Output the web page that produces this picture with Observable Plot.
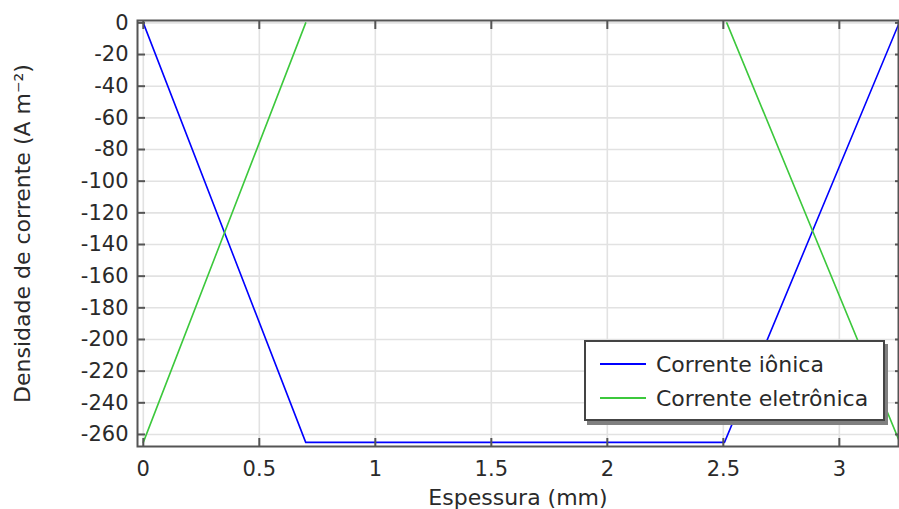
<!DOCTYPE html>
<html>
<head>
<meta charset="utf-8">
<script src="https://cdn.jsdelivr.net/npm/d3@7"></script>
<script src="https://cdn.jsdelivr.net/npm/@observablehq/plot@0.6"></script>
<style>
  html, body { margin: 0; padding: 0; background: #fff; }
  #wrap { position: relative; width: 899px; height: 509px; font-family: "DejaVu Sans", sans-serif; }
  #legend { position: absolute; left: 584px; top: 340px; width: 297px; height: 77px;
    border: 2px solid #444; background: #fff; box-shadow: 3px 4px 0 #808080; }
  .row { position: absolute; left: 0; height: 30px; display: flex; align-items: center; font-size: 22px; color: #2a2a2a; white-space: nowrap; }
  .row svg { margin-left: 14px; margin-right: 10px; }
</style>
</head>
<body>
<div id="wrap"></div>
<script>
// ---- data ----
const seriesNames = ["Corrente iônica", "Corrente eletrônica"];
const seriesColors = ["#0000ff", "#3cc83c"];
const ionicX = [0, 0.70, 2.505, 3.255];
const ionicY = [0, -265, -265, -1];
const eletronicX = [0, 0.70, 2.515, 3.255];
const eletronicY = [-265, 0, 0, -263];
const eletronicSeg = [0, 0, 1, 1];
const xTicks = [0, 0.5, 1, 1.5, 2, 2.5, 3];
const yTicks = [0, -20, -40, -60, -80, -100, -120, -140, -160, -180, -200, -220, -240, -260];
const xLabel = "Espessura (mm)";
const yLabel = "Densidade de corrente (A m⁻²)";

const ionic = ionicX.map((x, i) => ({x, y: ionicY[i]}));
const eletronic = eletronicX.map((x, i) => ({x, y: eletronicY[i], seg: eletronicSeg[i]}));

const chart = Plot.plot({
  width: 899, height: 509,
  marginLeft: 137, marginRight: 1, marginTop: 20, marginBottom: 63,
  style: {fontFamily: "DejaVu Sans", fontSize: "21px", color: "#2a2a2a", background: "#fff"},
  x: {domain: [-0.025, 3.255]},
  y: {domain: [-267.6, 1.5]},
  marks: [
    Plot.gridX(xTicks, {stroke: "#e2e2e2", strokeOpacity: 1, strokeWidth: 1.6}),
    Plot.gridY(yTicks, {stroke: "#e2e2e2", strokeOpacity: 1, strokeWidth: 1.6}),
    Plot.line(ionic, {x: "x", y: "y", stroke: seriesColors[0], strokeWidth: 1.6}),
    Plot.line(eletronic, {x: "x", y: "y", z: "seg", stroke: seriesColors[1], strokeWidth: 1.6}),
    Plot.axisX(xTicks, {anchor: "bottom", tickSize: 0, tickPadding: 15, tickFormat: d => String(d), label: null}),
    Plot.axisY(yTicks, {anchor: "left", tickSize: 0, tickPadding: 9, tickFormat: d => String(d), label: null}),
    Plot.axisX(xTicks, {anchor: "bottom", tickSize: -8, tickFormat: () => "", label: null, stroke: "#555", strokeWidth: 2}),
    Plot.axisX(xTicks, {anchor: "top", tickSize: -8, tickFormat: () => "", label: null, stroke: "#555", strokeWidth: 2}),
    Plot.axisY(yTicks, {anchor: "left", tickSize: -8, tickFormat: () => "", label: null, stroke: "#555", strokeWidth: 2}),
    Plot.axisY(yTicks, {anchor: "right", tickSize: -4, tickFormat: () => "", label: null, stroke: "#555", strokeWidth: 2}),
    Plot.frame({stroke: "#555", strokeWidth: 2}),
    Plot.text([xLabel], {frameAnchor: "bottom", dy: 51, lineAnchor: "middle", textAnchor: "middle", fontSize: 22, fill: "#2a2a2a"}),
    Plot.text([yLabel], {frameAnchor: "left", dx: -115, rotate: -90, lineAnchor: "middle", textAnchor: "middle", fontSize: 22, fill: "#2a2a2a"})
  ]
});

const wrap = document.getElementById("wrap");
wrap.appendChild(chart);

const legend = document.createElement("div");
legend.id = "legend";
seriesNames.forEach((name, i) => {
  const row = document.createElement("div");
  row.className = "row";
  row.style.top = (7 + i * 34) + "px";
  row.innerHTML = `<svg width="46" height="4"><line x1="0" y1="2" x2="46" y2="2" stroke="${seriesColors[i]}" stroke-width="1.8"/></svg><span>${name}</span>`;
  legend.appendChild(row);
});
wrap.appendChild(legend);
</script>
</body>
</html>
